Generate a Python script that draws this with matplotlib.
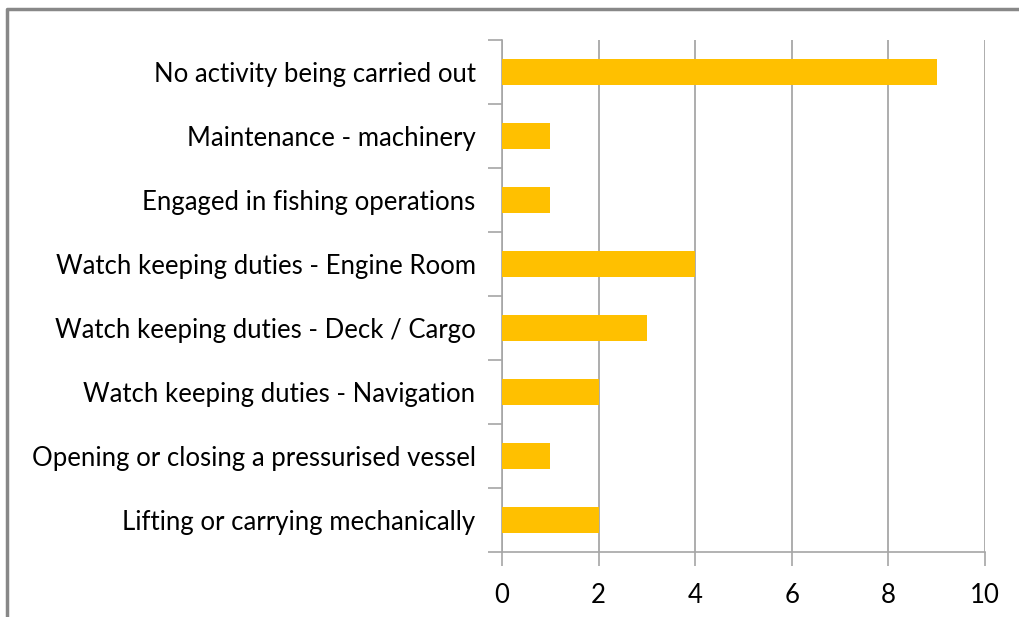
import matplotlib.pyplot as plt
import numpy as np
from matplotlib.lines import Line2D

# categories listed bottom to top
activities = [
    "Lifting or carrying mechanically",
    "Opening or closing a pressurised vessel",
    "Watch keeping duties - Navigation",
    "Watch keeping duties - Deck / Cargo",
    "Watch keeping duties - Engine Room",
    "Engaged in fishing operations",
    "Maintenance - machinery",
    "No activity being carried out",
]
counts = [2, 1, 2, 3, 4, 1, 1, 9]
x_ticks = [0, 2, 4, 6, 8, 10]

bar_color = "#FFC000"
axis_gray = "#a6a6a6"

plt.rcParams["font.family"] = ["Lato", "DejaVu Sans"]

fig = plt.figure(figsize=(10.2, 6.17), dpi=100)
ax = fig.add_axes([502 / 1020, 1 - 552 / 617, (985 - 502) / 1020, (552 - 40) / 617])

y = np.arange(len(activities))
ax.barh(y, counts, height=0.4, color=bar_color, zorder=3)

ax.set_xlim(0, 10)
ax.set_ylim(-0.5, len(activities) - 0.5)
ax.set_xticks(x_ticks)
ax.set_xticklabels([str(t) for t in x_ticks], fontsize=18.5)
ax.xaxis.grid(True, color="#a0a0a0", linewidth=1.2, zorder=0)

# category boundaries as major ticks, labels on minor ticks
ax.set_yticks(np.arange(-0.5, len(activities), 1.0))
ax.set_yticklabels([])
ax.set_yticks(y, minor=True)
ax.set_yticklabels(activities, minor=True, fontsize=18.5)
ax.tick_params(axis="y", which="major", length=10, color=axis_gray, width=1.2)
ax.tick_params(axis="y", which="minor", length=0, pad=19)
ax.tick_params(axis="x", length=10, color=axis_gray, width=1.2, pad=12)

for side in ["top", "right"]:
    ax.spines[side].set_visible(False)
for side in ["left", "bottom"]:
    ax.spines[side].set_color(axis_gray)
    ax.spines[side].set_linewidth(1.2)

# outer chart frame (left and top edges only visible)
fx, fy = 7 / 1020, 1 - 9 / 617
fig.add_artist(Line2D([fx, fx, 1.0], [0.0, fy, fy], transform=fig.transFigure,
                      color="#888888", linewidth=2.5))

fig.savefig("out.png", dpi=100)
